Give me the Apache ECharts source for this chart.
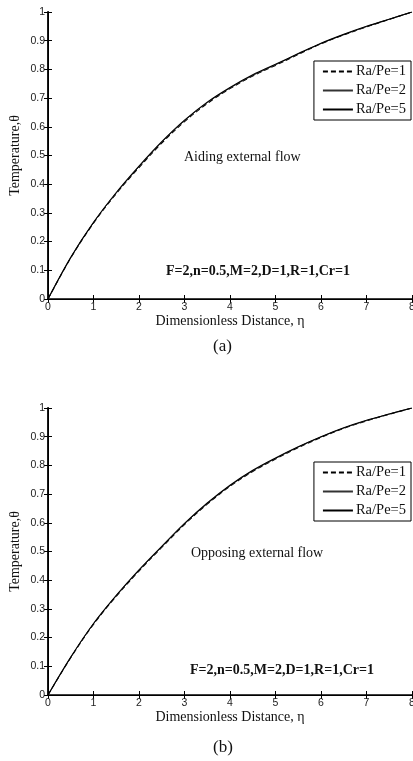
<!DOCTYPE html>
<html>
<head>
<meta charset="utf-8">
<script src="https://cdn.jsdelivr.net/npm/echarts@6/dist/echarts.min.js"></script>
<style>
html,body{margin:0;padding:0;background:#fff;}
#chart{width:413px;height:761px;}
</style>
</head>
<body>
<div id="chart"></div>
<script>
// Dimensionless distance η
const eta = [0, 0.5, 1, 1.5, 2, 2.5, 3, 3.5, 4, 4.5, 5, 5.5, 6, 6.5, 7, 7.5, 8];
const seriesNames = ['Ra/Pe=1', 'Ra/Pe=2', 'Ra/Pe=5'];
// (a) Aiding external flow
const aidRa1 = [0, 0.143, 0.264, 0.367, 0.458, 0.543, 0.618, 0.681, 0.733, 0.777, 0.814, 0.852, 0.889, 0.920, 0.948, 0.974, 1.0];
const aidRa2 = [0, 0.144, 0.266, 0.369, 0.461, 0.546, 0.621, 0.684, 0.735, 0.779, 0.816, 0.854, 0.890, 0.921, 0.949, 0.975, 1.0];
const aidRa5 = [0, 0.145, 0.267, 0.371, 0.463, 0.548, 0.623, 0.686, 0.737, 0.781, 0.818, 0.855, 0.891, 0.922, 0.950, 0.975, 1.0];
// (b) Opposing external flow
const oppRa1 = [0, 0.130, 0.246, 0.344, 0.432, 0.514, 0.594, 0.665, 0.727, 0.779, 0.822, 0.862, 0.897, 0.929, 0.955, 0.978, 1.0];
const oppRa2 = [0, 0.131, 0.248, 0.346, 0.434, 0.516, 0.596, 0.667, 0.729, 0.781, 0.824, 0.864, 0.899, 0.930, 0.956, 0.979, 1.0];
const oppRa5 = [0, 0.132, 0.249, 0.347, 0.436, 0.518, 0.598, 0.669, 0.731, 0.783, 0.826, 0.865, 0.900, 0.931, 0.957, 0.979, 1.0];

const xTitle = 'Dimensionless Distance, η';
const yTitle = 'Temperature,θ';
const panelLabels = ['(a)', '(b)'];
const flowLabels = ['Aiding external flow', 'Opposing external flow'];
const paramLabel = 'F=2,n=0.5,M=2,D=1,R=1,Cr=1';

const chart = echarts.init(document.getElementById('chart'), null, {renderer: 'canvas'});
const serif = '"Liberation Serif", "DejaVu Serif", serif';
const sans = '"Liberation Sans", Arial, sans-serif';

const grids = [
  {left: 48, top: 12, width: 364, height: 287, containLabel: false, outerBoundsMode: 'none'},
  {left: 48, top: 408, width: 364, height: 287, containLabel: false, outerBoundsMode: 'none'}
];

function xAxes(gi) {
  return [
    {type: 'value', gridIndex: gi, position: 'bottom', min: 0, max: 8, interval: 1,
     name: xTitle, nameLocation: 'middle', nameGap: 13,
     nameTextStyle: {fontFamily: serif, fontSize: 14, color: '#111'},
     axisLine: {show: true, lineStyle: {color: '#000', width: 1.5}},
     axisTick: {show: true, inside: true, length: 4, lineStyle: {color: '#000'}},
     axisLabel: {fontFamily: sans, fontSize: 10.5, color: '#222', margin: 3, showMaxLabel: true, showMinLabel: true},
     splitLine: {show: false}},
    {type: 'value', gridIndex: gi, position: 'top', min: 0, max: 8, interval: 1,
     axisLine: {show: true, lineStyle: {color: '#000', width: 1}},
     axisTick: {show: true, inside: true, length: 4, lineStyle: {color: '#000'}},
     axisLabel: {show: false}, splitLine: {show: false}}
  ];
}
function yAxes(gi) {
  return [
    {type: 'value', gridIndex: gi, position: 'left', min: 0, max: 1, interval: 0.1,
     name: yTitle, nameLocation: 'middle', nameGap: 26, nameRotate: 90, nameMoveOverlap: false,
     nameTextStyle: {fontFamily: serif, fontSize: 14, color: '#111'},
     axisLine: {show: true, lineStyle: {color: '#000', width: 1.8}},
     axisTick: {show: true, inside: true, length: 4, lineStyle: {color: '#000'}},
     axisLabel: {fontFamily: sans, fontSize: 10.5, color: '#222', margin: 3},
     splitLine: {show: false}},
    {type: 'value', gridIndex: gi, position: 'right', min: 0, max: 1, interval: 0.1,
     axisLine: {show: true, lineStyle: {color: '#000', width: 1}},
     axisTick: {show: true, inside: true, length: 4, lineStyle: {color: '#000'}},
     axisLabel: {show: false}, splitLine: {show: false}}
  ];
}

function mk(name, vals, axisIdx, style) {
  return {
    name: name, type: 'line', xAxisIndex: axisIdx, yAxisIndex: axisIdx,
    data: eta.map((e, i) => [e, vals[i]]),
    showSymbol: false, symbol: 'none', smooth: 0.35,
    lineStyle: style, itemStyle: {color: style.color, opacity: 0},
    animation: false
  };
}
const styles = [
  {color: '#000', width: 1.1, type: [5, 3]},
  {color: '#333', width: 1.0, type: 'solid'},
  {color: '#000', width: 1.1, type: 'solid'}
];

const series = [
  mk(seriesNames[0], aidRa1, 0, styles[0]),
  mk(seriesNames[1], aidRa2, 0, styles[1]),
  mk(seriesNames[2], aidRa5, 0, styles[2]),
  mk(seriesNames[0], oppRa1, 2, styles[0]),
  mk(seriesNames[1], oppRa2, 2, styles[1]),
  mk(seriesNames[2], oppRa5, 2, styles[2])
];

function legend(top) {
  return {
    data: seriesNames, orient: 'vertical', right: 2, top: top,
    itemWidth: 30, itemHeight: 12, itemGap: 4,
    padding: [3, 5, 3, 8],
    borderColor: '#000', borderWidth: 1, backgroundColor: '#fff',
    itemStyle: {opacity: 0},
    textStyle: {fontFamily: serif, fontSize: 14.5, color: '#111', padding: [0, 0, 0, -2]},
    selectedMode: false
  };
}

function txt(x, y, text, size, bold, align) {
  return {type: 'text', left: x, top: y, z: 10,
    style: {text: text, font: (bold ? 'bold ' : '') + size + 'px ' + serif, fill: '#111',
            textAlign: align || 'left', textVerticalAlign: 'middle'}};
}

chart.setOption({
  backgroundColor: '#fff',
  animation: false,
  grid: grids,
  xAxis: [...xAxes(0), ...xAxes(1)],
  yAxis: [...yAxes(0), ...yAxes(1)],
  legend: [legend(61), legend(462)],
  series: series,
  graphic: [
    txt(184, 150, flowLabels[0], 14, false),
    txt(166, 264, paramLabel, 14, true),
    txt(191, 546, flowLabels[1], 14, false),
    txt(190, 663, paramLabel, 14, true),
    txt(213, 338, panelLabels[0], 17, false),
    txt(213, 739, panelLabels[1], 17, false)
  ]
});
</script>
</body>
</html>
